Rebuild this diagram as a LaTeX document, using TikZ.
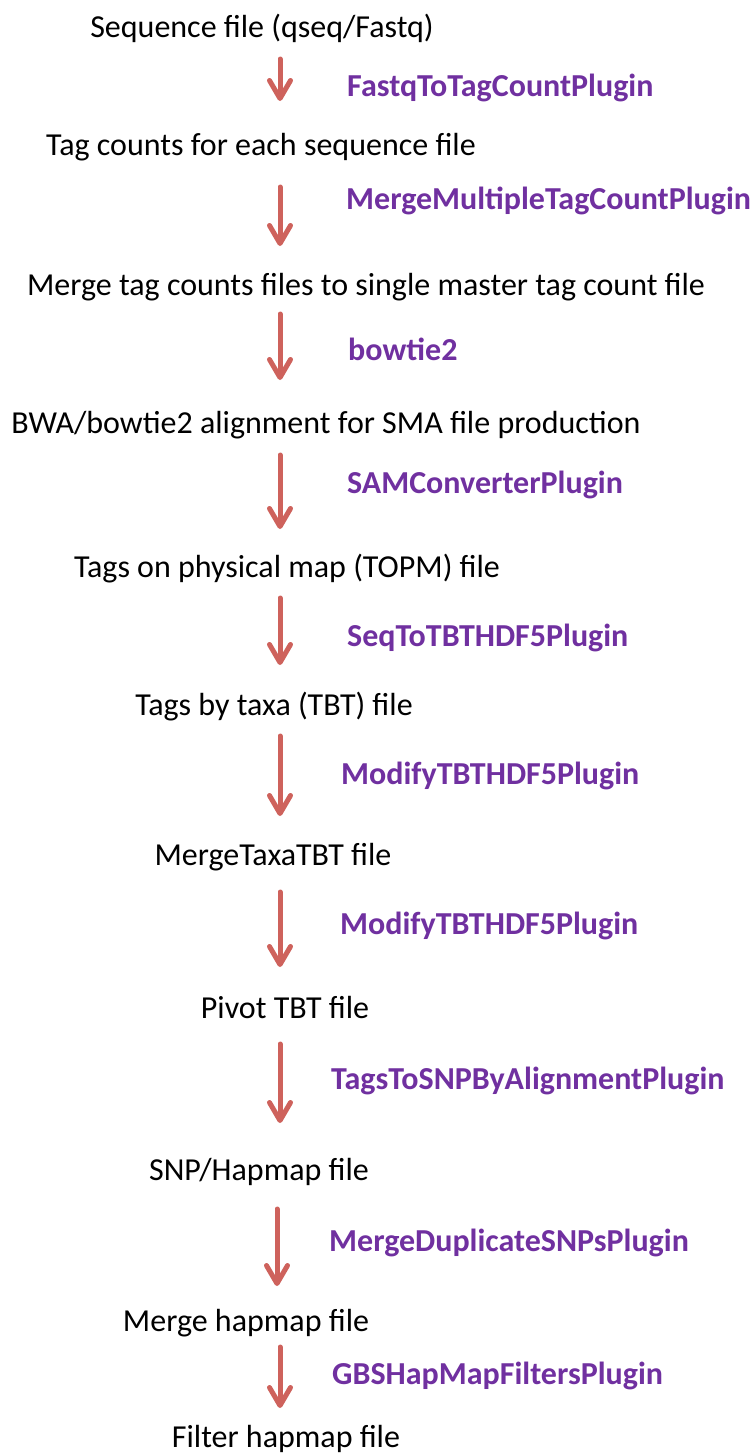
\documentclass[tikz,border=0pt]{standalone}
\usepackage{fontspec}
\setmainfont{Carlito}
\usetikzlibrary{arrows.meta}
\definecolor{arrowred}{RGB}{206,98,92}
\definecolor{plugpurple}{RGB}{112,48,160}
\begin{document}
\begin{tikzpicture}[x=1pt,y=-1pt,
  filetext/.style={inner sep=0pt,anchor=mid,font=\fontsize{32}{38}\selectfont,text=black},
  plugtext/.style={inner sep=0pt,anchor=mid west,font=\fontsize{32}{38}\selectfont\bfseries,text=plugpurple},
  flowarrow/.style={draw=arrowred,line width=5pt,line cap=round,
    -{Straight Barb[length=18pt,width=21pt,line cap=round,line join=round]}}]
\useasboundingbox[fill=white] (0,0) rectangle (753,1456);
% file texts
\node[filetext] (t1) at (262,35) {Sequence file (qseq/Fastq)};
\node[filetext] (t2) at (261,153) {Tag counts for each sequence file};
\node[filetext] (t3) at (366,293) {Merge tag counts files to single master tag count file};
\node[filetext] (t4) at (326,431) {BWA/bowtie2 alignment for SMA file production};
\node[filetext] (t5) at (287,575) {Tags on physical map (TOPM) file};
\node[filetext] (t6) at (274,713) {Tags by taxa (TBT) file};
\node[filetext] (t7) at (273,863) {MergeTaxaTBT file};
\node[filetext] (t8) at (285,1016) {Pivot TBT file};
\node[filetext] (t9) at (259,1178) {SNP/Hapmap file};
\node[filetext] (t10) at (246,1329) {Merge hapmap file};
\node[filetext] (t11) at (286,1445) {Filter hapmap file};
% plugin labels
\node[plugtext] (p1) at (347,94) {FastqToTagCountPlugin};
\node[plugtext] (p2) at (346,207) {MergeMultipleTagCountPlugin};
\node[plugtext] (p3) at (348,358) {bowtie2};
\node[plugtext] (p4) at (347,491) {SAMConverterPlugin};
\node[plugtext] (p5) at (347,644) {SeqToTBTHDF5Plugin};
\node[plugtext] (p6) at (341,782) {ModifyTBTHDF5Plugin};
\node[plugtext] (p7) at (340,932) {ModifyTBTHDF5Plugin};
\node[plugtext] (p8) at (331,1087) {TagsToSNPByAlignmentPlugin};
\node[plugtext] (p9) at (329,1249) {MergeDuplicateSNPsPlugin};
\node[plugtext] (p10) at (332,1382) {GBSHapMapFiltersPlugin};
% arrow end points
\coordinate (a1s) at (280,59);   \coordinate (a1e) at (280,101);
\coordinate (a2s) at (280,187);  \coordinate (a2e) at (280,246);
\coordinate (a3s) at (280,314);  \coordinate (a3e) at (280,380);
\coordinate (a4s) at (280,455);  \coordinate (a4e) at (280,529);
\coordinate (a5s) at (280,598);  \coordinate (a5e) at (280,665);
\coordinate (a6s) at (280,736);  \coordinate (a6e) at (280,816);
\coordinate (a7s) at (280,892);  \coordinate (a7e) at (280,967);
\coordinate (a8s) at (280,1044); \coordinate (a8e) at (280,1123);
\coordinate (a9s) at (277,1209); \coordinate (a9e) at (277,1286);
\coordinate (a10s) at (280,1347); \coordinate (a10e) at (280,1408);
\foreach \i in {1,...,10}{\draw[flowarrow] (a\i s) -- (a\i e);}
\end{tikzpicture}
\end{document}
